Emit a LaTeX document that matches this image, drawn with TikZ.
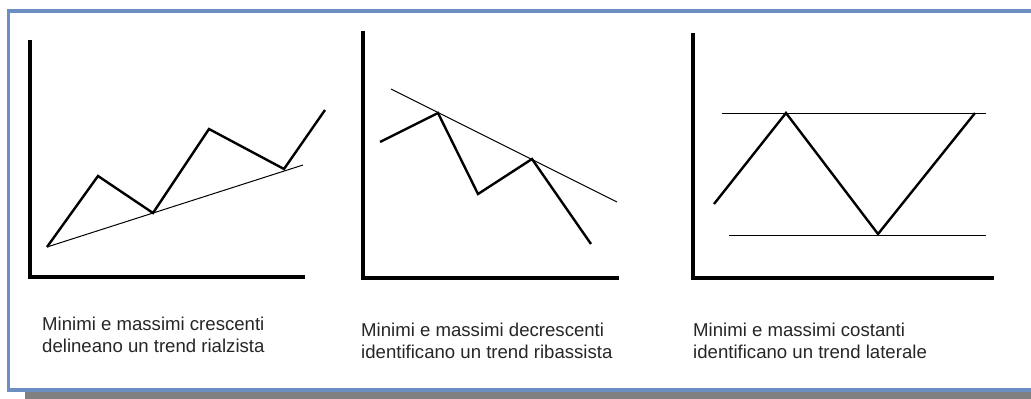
\documentclass[tikz,border=0pt]{standalone}
\usepackage{fontspec}
\setmainfont{Liberation Sans}
\definecolor{frameblue}{HTML}{6B8FC2}
\definecolor{shadowgray}{HTML}{808080}
\tikzset{
  axisline/.style={line width=4pt, line cap=rect},
  pricepath/.style={line width=2.4pt, line join=miter},
  trendline/.style={line width=1pt},
  caption/.style={anchor=base west, inner sep=0pt, font=\fontsize{18.6}{22}\selectfont, align=left, text=black!85}
}
\begin{document}
\begin{tikzpicture}[x=1pt,y=-1pt]
\useasboundingbox (0,0) rectangle (1031,399);
\fill[white] (0,0) rectangle (1031,399);
% shadow and frame
\fill[shadowgray] (25,392) rectangle (1031,399);
\draw[frameblue, line width=3.6pt] (1040,11) -- (8.5,11) -- (8.5,390) -- (1040,390);

% chart 1
\draw[axisline] (30,42) -- (30,277) -- (303,277);
\coordinate (a1) at (47,247);
\coordinate (a2) at (98,176);
\coordinate (a3) at (153,213);
\coordinate (a4) at (209,129);
\coordinate (a5) at (284,169);
\coordinate (a6) at (325,110);
\coordinate (t1) at (303,165);
\draw[trendline] (a1) -- (t1);
\draw[pricepath] (a1) -- (a2) -- (a3) -- (a4) -- (a5) -- (a6);

% chart 2
\draw[axisline] (363,33) -- (363,278) -- (617,278);
\coordinate (b1) at (380,142);
\coordinate (b2) at (438,113);
\coordinate (b3) at (478,194);
\coordinate (b4) at (532,159);
\coordinate (b5) at (591,244);
\coordinate (u1) at (391,89);
\coordinate (u2) at (617,202);
\draw[trendline] (u1) -- (u2);
\draw[pricepath] (b1) -- (b2) -- (b3) -- (b4) -- (b5);

% chart 3
\draw[axisline] (693,35) -- (693,278) -- (992,278);
\coordinate (r1) at (722,113);
\coordinate (r2) at (986,113);
\coordinate (s1) at (729,235);
\coordinate (s2) at (986,235);
\draw[trendline] (r1) -- (r2);
\draw[trendline] (s1) -- (s2);
\coordinate (c1) at (714,204);
\coordinate (c2) at (786,113);
\coordinate (c3) at (878,234);
\coordinate (c4) at (975,113);
\draw[pricepath] (c1) -- (c2) -- (c3) -- (c4);

% captions (anchor = baseline of last line)
\node[caption] (cap1) at (42,352) {Minimi e massimi crescenti\\delineano un trend rialzista};
\node[caption] (cap2) at (361,358) {Minimi e massimi decrescenti\\identificano un trend ribassista};
\node[caption] (cap3) at (693,358) {Minimi e massimi costanti\\identificano un trend laterale};
\end{tikzpicture}
\end{document}
